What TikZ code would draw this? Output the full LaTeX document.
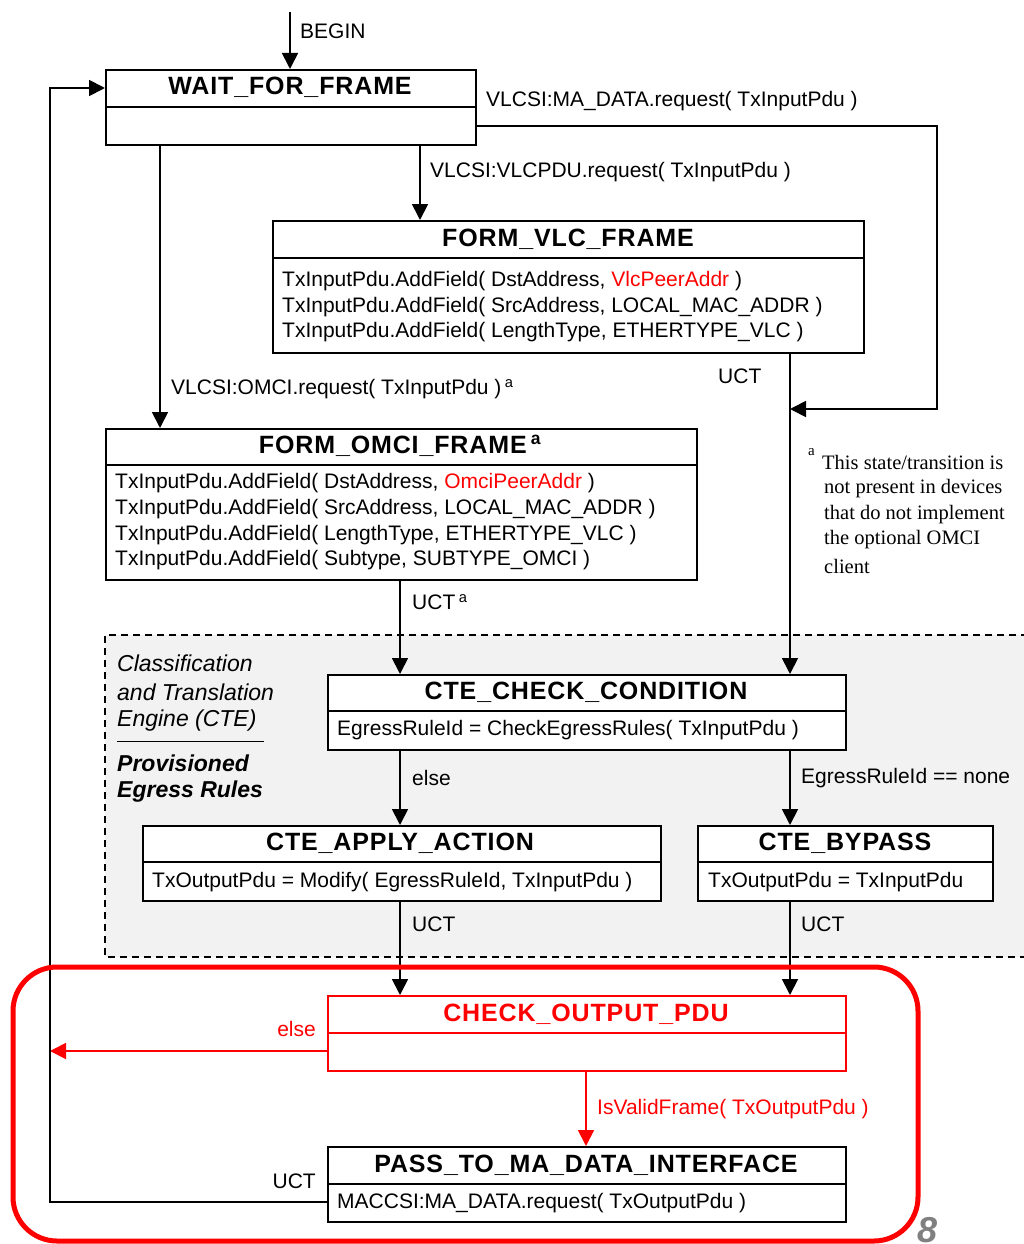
\documentclass[tikz,border=0pt]{standalone}
\usepackage{fontspec}
\setmainfont{Liberation Sans}
\newfontfamily\notefont{Liberation Serif}
\newfontfamily\titlefont[LetterSpace=3.5]{Liberation Sans}
\usetikzlibrary{arrows.meta}
\definecolor{ctegray}{HTML}{F2F2F2}
\definecolor{pagegray}{HTML}{808080}
\begin{document}
\begin{tikzpicture}[x=1pt,y=-1pt,
  statebox/.style={draw, line width=1.8pt, anchor=north west, inner sep=0pt, fill=white},
  divider/.style={line width=1.8pt},
  statetitle/.style={font=\titlefont\fontsize{25}{30}\selectfont\bfseries, inner sep=0pt},
  body/.style={font=\fontsize{21}{24}\selectfont, anchor=west, inner sep=0pt, yshift=-1.5pt},
  lbl/.style={font=\fontsize{21}{24}\selectfont, anchor=west, inner sep=0pt, yshift=-1pt},
  note/.style={font=\notefont\fontsize{20.5}{24}\selectfont, anchor=west, inner sep=0pt},
  arr/.style={line width=1.8pt, -{Triangle[length=16pt,width=16pt]}},
  link/.style={line width=1.8pt},
  ]
\useasboundingbox (0,0) rectangle (1024,1244);
\clip (0,0) rectangle (1024,1244);

% ---- CTE region (dashed, shaded) ----
\draw[fill=ctegray, line width=1.2pt, dash pattern=on 7pt off 5pt] (1040,635) -- (105,635) -- (105,957) -- (1040,957);
\node[anchor=west, inner sep=0pt, font=\fontsize{23}{28}\selectfont\itshape] (cte1) at (117,663) {Classification};
\node[anchor=west, inner sep=0pt, font=\fontsize{23}{28}\selectfont\itshape] (cte2) at (117,692) {and Translation};
\node[anchor=west, inner sep=0pt, font=\fontsize{23}{28}\selectfont\itshape] (cte3) at (117,721) {Engine (CTE)};
\coordinate (sepL) at (117,741);
\coordinate (sepR) at (264,741);
\draw[line width=1pt] (sepL) -- (sepR);
\node[anchor=west, inner sep=0pt, font=\fontsize{23}{28}\selectfont\bfseries\itshape] (per1) at (117,763) {Provisioned};
\node[anchor=west, inner sep=0pt, font=\fontsize{23}{28}\selectfont\bfseries\itshape] (per2) at (117,792) {Egress Rules};

% ---- states ----
% WAIT_FOR_FRAME
\node[statebox, minimum width=370pt, minimum height=75pt] (wff) at (105,69) {};
\draw[divider] (105,107) -- (475,107);
\node[statetitle] at (290,87) {WAIT\_FOR\_FRAME};

% FORM_VLC_FRAME
\node[statebox, minimum width=591pt, minimum height=132pt] (fvlc) at (272,220) {};
\draw[divider] (272,258) -- (863,258);
\node[statetitle] at (568,239) {FORM\_VLC\_FRAME};
\node[body] at (282,280) {TxInputPdu.AddField( DstAddress, \textcolor{red}{VlcPeerAddr} )};
\node[body] at (282,306) {TxInputPdu.AddField( SrcAddress, LOCAL\_MAC\_ADDR )};
\node[body] at (282,331) {TxInputPdu.AddField( LengthType, ETHERTYPE\_VLC )};

% FORM_OMCI_FRAME
\node[statebox, minimum width=591pt, minimum height=151pt] (fomci) at (105,428) {};
\draw[divider] (105,465) -- (696,465);
\node[statetitle] at (400,446) {FORM\_OMCI\_FRAME\,\textsuperscript{a}};
\node[body] at (115,482) {TxInputPdu.AddField( DstAddress, \textcolor{red}{OmciPeerAddr} )};
\node[body] at (115,508) {TxInputPdu.AddField( SrcAddress, LOCAL\_MAC\_ADDR )};
\node[body] at (115,534) {TxInputPdu.AddField( LengthType, ETHERTYPE\_VLC )};
\node[body] at (115,559) {TxInputPdu.AddField( Subtype, SUBTYPE\_OMCI )};

% CTE_CHECK_CONDITION
\node[statebox, minimum width=518pt, minimum height=75pt] (chk) at (327,674) {};
\draw[divider] (327,711) -- (845,711);
\node[statetitle] at (586,692) {CTE\_CHECK\_CONDITION};
\node[body] at (337,729) {EgressRuleId = CheckEgressRules( TxInputPdu )};

% CTE_APPLY_ACTION
\node[statebox, minimum width=518pt, minimum height=75pt] (apply) at (142,825) {};
\draw[divider] (142,862) -- (660,862);
\node[statetitle] at (400,843) {CTE\_APPLY\_ACTION};
\node[body] at (152,881) {TxOutputPdu = Modify( EgressRuleId, TxInputPdu )};

% CTE_BYPASS
\node[statebox, minimum width=295pt, minimum height=75pt] (bypass) at (697,825) {};
\draw[divider] (697,862) -- (992,862);
\node[statetitle] at (845,843) {CTE\_BYPASS};
\node[body] at (708,881) {TxOutputPdu = TxInputPdu};

% CHECK_OUTPUT_PDU
\node[statebox, draw=red, minimum width=518pt, minimum height=75pt] (cop) at (327,995) {};
\draw[divider, red] (327,1033) -- (845,1033);
\node[statetitle, text=red] at (586,1014) {CHECK\_OUTPUT\_PDU};

% PASS_TO_MA_DATA_INTERFACE
\node[statebox, minimum width=518pt, minimum height=75pt] (pass) at (327,1146) {};
\draw[divider] (327,1184) -- (845,1184);
\node[statetitle] at (586,1165) {PASS\_TO\_MA\_DATA\_INTERFACE};
\node[body] at (337,1202) {MACCSI:MA\_DATA.request( TxOutputPdu )};

% ---- helper coordinates for connector columns/rows ----
\coordinate (begin) at (290,12);
\coordinate (xA) at (160,0);
\coordinate (xB) at (420,0);
\coordinate (xC) at (400,0);
\coordinate (xD) at (790,0);
\coordinate (xE) at (586,0);
\coordinate (xL) at (50,0);
\coordinate (xR) at (937,0);
\coordinate (yMA) at (0,126);
\coordinate (yJoin) at (0,409);
\coordinate (yLoop) at (0,88);
\coordinate (yElse) at (0,1051);
\coordinate (yUct) at (0,1202);

% ---- transitions ----
\draw[arr] (begin) -- (wff.north -| begin);
\node[lbl] at (300,30) {BEGIN};

\draw[arr] (wff.south -| xB) -- (fvlc.north -| xB);
\node[lbl] at (430,171) {VLCSI:VLCPDU.request( TxInputPdu )};

\draw[arr] (wff.south -| xA) -- (fomci.north -| xA);
\node[lbl] at (171,388) {VLCSI:OMCI.request( TxInputPdu )\,\textsuperscript{a}};

\draw[arr] (wff.east |- yMA) -| (xR |- yJoin) -- (xD |- yJoin);
\node[lbl] at (486,100) {VLCSI:MA\_DATA.request( TxInputPdu )};

\draw[arr] (fvlc.south -| xD) -- (chk.north -| xD);
\node[lbl] at (718,375) {UCT};

\draw[arr] (fomci.south -| xC) -- (chk.north -| xC);
\node[lbl] at (412,601) {UCT\,\textsuperscript{a}};

\draw[arr] (chk.south -| xC) -- (apply.north -| xC);
\node[lbl] at (412,777) {else};

\draw[arr] (chk.south -| xD) -- (bypass.north -| xD);
\node[lbl] at (801,777) {EgressRuleId == none};

\draw[arr] (apply.south -| xC) -- (cop.north -| xC);
\node[lbl] at (412,923) {UCT};

\draw[arr] (bypass.south -| xD) -- (cop.north -| xD);
\node[lbl] at (801,923) {UCT};

\draw[arr, red] (cop.west |- yElse) -- (xL |- yElse);
\node[lbl, anchor=east, text=red] at (316,1028) {else};

\draw[arr, red] (cop.south -| xE) -- (pass.north -| xE);
\node[lbl, text=red] at (597,1108) {IsValidFrame( TxOutputPdu )};

\draw[arr] (pass.west |- yUct) -- (xL |- yUct) -- (xL |- yLoop) -- (wff.west |- yLoop);
\node[lbl, anchor=east] at (316,1180) {UCT};

% ---- footnote ----
\node[note, font=\notefont\fontsize{15}{17}\selectfont] at (808,452) {a};
\node[note] at (822,462) {This state/transition is};
\node[note] at (824,489) {not present in devices};
\node[note] at (824,515) {that do not implement};
\node[note] at (824,540) {the optional OMCI};
\node[note] at (824,566) {client};

% ---- highlighted group ----
\draw[red, line width=5pt, rounded corners=44pt] (13,967) rectangle (918,1241);
\node[anchor=north west, inner sep=0pt, text=pagegray, font=\fontsize{36}{40}\selectfont\bfseries\itshape] (pg) at (917,1217) {8};
\end{tikzpicture}
\end{document}
